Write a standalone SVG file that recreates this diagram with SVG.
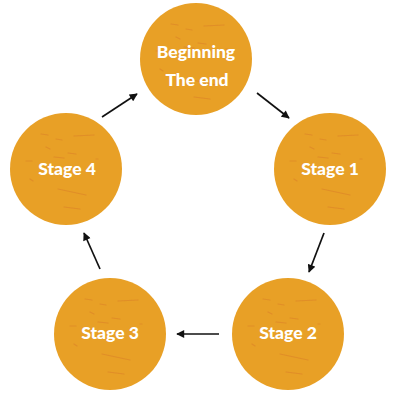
<svg xmlns="http://www.w3.org/2000/svg" xmlns:xlink="http://www.w3.org/1999/xlink" width="400" height="404" viewBox="0 0 400 404">
<style>
.disc{fill:#E8A026;}
.lbl{fill:#ffffff;font-family:Lato,"Open Sans","Liberation Sans",sans-serif;font-weight:900;font-size:17.5px;text-anchor:middle;}
.conn{stroke:#111111;stroke-width:1.7;fill:none;marker-end:url(#ah);}
.tex{stroke:#D8782A;stroke-width:1.2;stroke-linecap:round;opacity:0.45;fill:none;}
</style>
<defs>
<marker id="ah" viewBox="0 0 10 10" refX="9" refY="5" markerWidth="9" markerHeight="8" markerUnits="userSpaceOnUse" orient="auto">
<path d="M0,0 L10,5 L0,10 z" fill="#111111"/>
</marker>
<g id="texture">
<path class="tex" d="M-25,-35 L-18,-34 M-10,-30 L-4,-29 M8,-33 L28,-34 M-40,-8 L-34,-8 M-12,-12 L-2,-11 M2,-16 L10,-15 M-8,20 L20,26 M-2,38 L14,40 M-20,-22 L-16,-20 M30,-10 L32,-10 M-36,10 L-33,12"/>
</g>
</defs>
<g id="connectors">
<line class="conn" x1="257" y1="93" x2="289" y2="118"/>
<line class="conn" x1="324" y1="233" x2="309" y2="272"/>
<line class="conn" x1="219" y1="334" x2="177" y2="334"/>
<line class="conn" x1="100" y1="269" x2="84" y2="233"/>
<line class="conn" x1="102" y1="117" x2="137" y2="94"/>
</g>
<g id="node-beginning">
<circle class="disc" cx="196" cy="59" r="56"/>
<use xlink:href="#texture" transform="translate(196,59)"/>
<text class="lbl" x="196" y="58">Beginning</text>
<text class="lbl" x="197" y="86">The end</text>
</g>
<g id="node-stage1">
<circle class="disc" cx="330" cy="169" r="56"/>
<use xlink:href="#texture" transform="translate(330,169)"/>
<text class="lbl" x="330" y="175">Stage 1</text>
</g>
<g id="node-stage2">
<circle class="disc" cx="288" cy="334" r="56"/>
<use xlink:href="#texture" transform="translate(288,334)"/>
<text class="lbl" x="288" y="339">Stage 2</text>
</g>
<g id="node-stage3">
<circle class="disc" cx="110" cy="334" r="56"/>
<use xlink:href="#texture" transform="translate(110,334)"/>
<text class="lbl" x="110" y="339">Stage 3</text>
</g>
<g id="node-stage4">
<circle class="disc" cx="66" cy="169" r="56"/>
<use xlink:href="#texture" transform="translate(66,169)"/>
<text class="lbl" x="67" y="175">Stage 4</text>
</g>
</svg>
